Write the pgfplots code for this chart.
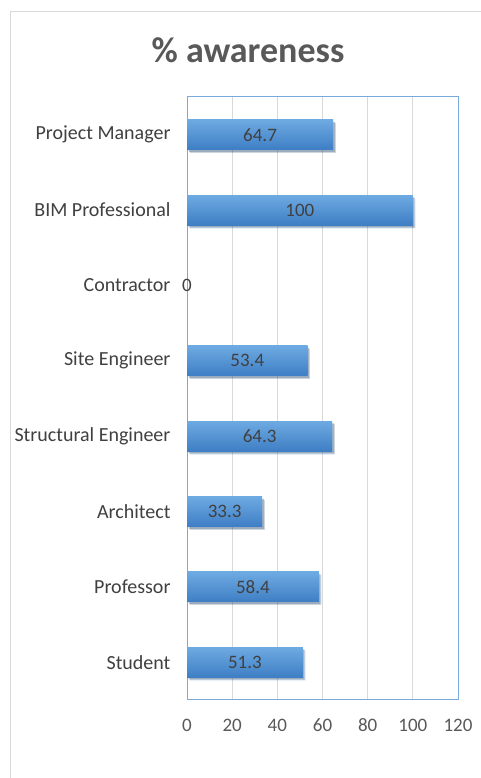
\documentclass[border=0pt]{standalone}
\usepackage{pgfplots}
\pgfplotsset{compat=1.18}
\usepackage{fontspec}
\setmainfont{Carlito}
\usetikzlibrary{shadows}
\definecolor{barTop}{RGB}{110,170,226}
\definecolor{barBot}{RGB}{62,126,196}
\definecolor{axisblue}{RGB}{120,170,220}
\definecolor{gridgray}{RGB}{217,217,217}
\definecolor{txt}{RGB}{64,64,64}
\definecolor{ticktxt}{RGB}{89,89,89}
\begin{document}
\begin{tikzpicture}
\useasboundingbox (0,0) rectangle (481pt,778pt);
\fill[white] (0,0) rectangle (481pt,778pt);
\draw[gridgray, line width=1pt] (10pt,0) -- (10pt,766pt) -- (481pt,766pt);
\node[font=\fontsize{36}{40}\selectfont\bfseries, text=ticktxt] at (248pt,728pt) {\% awareness};
\begin{axis}[
  at={(187pt,78pt)}, anchor=south west,
  scale only axis, width=271pt, height=603pt,
  xbar, bar width=30pt, bar shift=0pt,
  xmin=0, xmax=120, ymin=-0.5, ymax=7.5,
  xtick={0,20,...,120}, ytick={0,...,7},
  yticklabels={Student,Professor,Architect,Structural Engineer,Site Engineer,Contractor,BIM Professional,Project Manager},
  major tick length=0pt,
  xmajorgrids, grid style={gridgray, line width=1pt},
  axis line style={axisblue, line width=1pt},
  /pgf/number format/assume math mode=true,
  tick label style={font=\fontsize{19}{22}\selectfont, text=ticktxt},
  yticklabel style={font=\fontsize{20}{23}\selectfont, text=txt, xshift=-13pt},
  xticklabel style={anchor=base, yshift=-31pt},
  nodes near coords,
  visualization depends on={x \as \rawx},
  every node near coord/.append style={anchor=center, font=\fontsize{19}{22}\selectfont, text=txt,
     shift={(axis direction cs:-\rawx/2,0)}},
  barstyle/.style={draw=none, top color=barTop, bottom color=barBot,
     drop shadow={shadow xshift=2.5pt, shadow yshift=-3pt, fill=black, opacity=0.12},
     drop shadow={shadow xshift=1.5pt, shadow yshift=-2pt, fill=black, opacity=0.15}},
]
\addplot[barstyle] coordinates {(51.3,0)};
\addplot[barstyle] coordinates {(58.4,1)};
\addplot[barstyle] coordinates {(33.3,2)};
\addplot[barstyle] coordinates {(64.3,3)};
\addplot[barstyle] coordinates {(53.4,4)};
\addplot[draw=none, fill=none] coordinates {(0,5)};
\addplot[barstyle] coordinates {(100,6)};
\addplot[barstyle] coordinates {(64.7,7)};
\end{axis}
\end{tikzpicture}
\end{document}
